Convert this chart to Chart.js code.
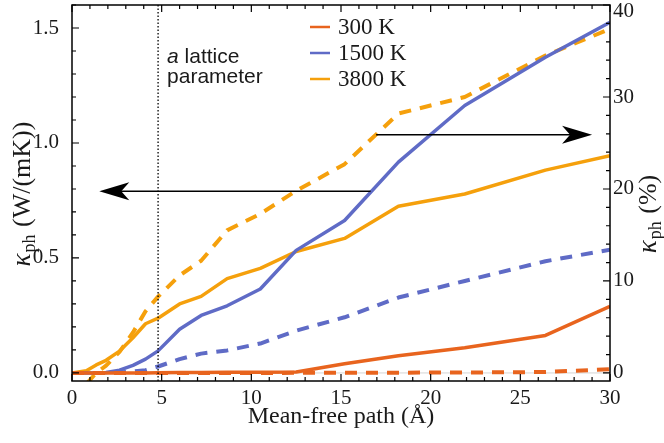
<!DOCTYPE html>
<html>
<head>
<meta charset="utf-8">
<script src="https://cdn.jsdelivr.net/npm/chart.js@4.4.1/dist/chart.umd.min.js"></script>
<style>
    html, body { margin: 0; padding: 0; background: #fff; }
    #caixa { width: 664px; height: 443px; }
</style>
</head>
<body>
<div id="caixa"><canvas id="grafico" width="664" height="443"></canvas></div>
<script>
// caminho livre medio (Å), pontos comuns a todas as curvas
const caminhoLivre = [0, 0.8, 1.35, 1.9, 2.65, 3.4, 4.1, 4.8, 6.0, 7.2, 8.65, 10.5, 12.5, 15.2, 18.2, 21.9, 26.4, 30];

// kappa_ph acumulado (W/(mK)), eixo esquerdo
const kappa300 = [0, 0, 0, 0, 0, 0, 0, 0.001, 0.002, 0.002, 0.003, 0.003, 0.004, 0.04, 0.075, 0.11, 0.163, 0.29];
const kappa1500 = [0, 0, 0, 0.002, 0.012, 0.033, 0.06, 0.096, 0.19, 0.25, 0.292, 0.365, 0.533, 0.663, 0.917, 1.163, 1.373, 1.525];
const kappa3800 = [0, 0.01, 0.035, 0.055, 0.095, 0.153, 0.214, 0.238, 0.30, 0.333, 0.41, 0.455, 0.528, 0.585, 0.725, 0.778, 0.882, 0.945];

// kappa_ph acumulado (%), eixo direito
const pct300 = [0, 0, 0, 0, 0, 0, 0, 0, 0, 0, 0, 0, 0.01, 0.02, 0.03, 0.05, 0.1, 0.4];
const pct1500 = [0, 0, 0, 0, 0.05, 0.15, 0.3, 0.7, 1.5, 2.1, 2.45, 3.2, 4.6, 6.05, 8.2, 10.0, 12.15, 13.4];
const pct3800 = [null, -1.2, 0.0, 0.8, 2.3, 4.4, 6.7, 8.3, 10.6, 12.2, 15.5, 17.3, 19.8, 22.7, 28.2, 30.0, 34.5, 37.4];

const temperaturas = ['300 K', '1500 K', '3800 K'];
const cores = ['#e8641e', '#5f6bc6', '#f5a00c'];

const ticksX = [0, 5, 10, 15, 20, 25, 30];
const ticksEsq = [0, 0.5, 1.0, 1.5];
const ticksDir = [0, 10, 20, 30, 40];

const parametroRede = 4.8;
const setaEsquerda = { de: 16.65, ate: 1.52, valor: 0.79 };
const setaDireita = { de: 16.96, ate: 29.0, valor: 25.9 };

const fonteSerif = '"Liberation Serif", "Times New Roman", serif';
const fonteSans = '"Liberation Sans", Arial, sans-serif';
const corTexto = '#1a1a1a';

function pontos(valores) {
    return caminhoLivre.map((x, i) => ({ x, y: valores[i] })).filter(p => p.y !== null);
}

function criarSerie(rotulo, valores, cor, eixo, tracejado) {
    return {
        label: rotulo,
        data: pontos(valores),
        borderColor: cor,
        backgroundColor: cor,
        borderWidth: tracejado ? 4 : 3.5,
        borderDash: tracejado ? [12, 9] : [],
        borderCapStyle: 'butt',
        borderJoinStyle: 'round',
        pointRadius: 0,
        tension: 0,
        fill: false,
        clip: 0,
        yAxisID: eixo
    };
}

function desenharSeta(ctx, x0, x1, y) {
    const dir = x1 < x0 ? 1 : -1;
    ctx.save();
    ctx.strokeStyle = '#000';
    ctx.fillStyle = '#000';
    ctx.lineWidth = 1.5;
    ctx.beginPath();
    ctx.moveTo(x0, y);
    ctx.lineTo(x1 + dir * 20, y);
    ctx.stroke();
    ctx.beginPath();
    ctx.moveTo(x1, y);
    ctx.lineTo(x1 + dir * 30, y - 9);
    ctx.lineTo(x1 + dir * 22, y);
    ctx.lineTo(x1 + dir * 30, y + 9);
    ctx.closePath();
    ctx.fill();
    ctx.restore();
}

function desenharTituloKappa(ctx, cx, cy, resto) {
    ctx.save();
    ctx.translate(cx, cy);
    ctx.rotate(-Math.PI / 2);
    ctx.fillStyle = corTexto;
    ctx.textBaseline = 'alphabetic';
    const fK = 'italic 27px ' + fonteSerif;
    const fSub = '18px ' + fonteSerif;
    const fResto = '26px ' + fonteSerif;
    ctx.font = fK; const wK = ctx.measureText('κ').width;
    ctx.font = fSub; const wSub = ctx.measureText('ph').width;
    ctx.font = fResto; const wResto = ctx.measureText(resto).width;
    let x = -(wK + wSub + 2 + wResto) / 2;
    const base = 8;
    ctx.font = fK; ctx.fillText('κ', x, base); x += wK + 1;
    ctx.font = fSub; ctx.fillText('ph', x, base + 5); x += wSub + 1;
    ctx.font = fResto; ctx.fillText(resto, x, base);
    ctx.restore();
}

const pluginMoldura = {
    id: 'moldura',
    beforeDatasetsDraw(chart) {
        const { ctx, chartArea: a, scales } = chart;
        const y0 = scales.y.getPixelForValue(0);
        ctx.save();
        ctx.strokeStyle = '#d4d4d4';
        ctx.lineWidth = 1;
        ctx.beginPath();
        ctx.moveTo(a.left, y0);
        ctx.lineTo(a.right, y0);
        ctx.stroke();
        ctx.restore();
    },
    afterDraw(chart) {
        const { ctx, chartArea: a, scales } = chart;
        const sx = scales.x, sy = scales.y, sy2 = scales.y2;

        // linha pontilhada do parametro de rede
        const xp = sx.getPixelForValue(parametroRede);
        ctx.save();
        ctx.strokeStyle = '#000';
        ctx.lineWidth = 1.3;
        ctx.setLineDash([1.5, 2]);
        ctx.beginPath();
        ctx.moveTo(xp, a.bottom);
        ctx.lineTo(xp, a.top);
        ctx.stroke();
        ctx.restore();

        // setas indicando o eixo de cada familia de curvas
        desenharSeta(ctx, sx.getPixelForValue(setaEsquerda.de), sx.getPixelForValue(setaEsquerda.ate), sy.getPixelForValue(setaEsquerda.valor));
        desenharSeta(ctx, sx.getPixelForValue(setaDireita.de), sx.getPixelForValue(setaDireita.ate), sy2.getPixelForValue(setaDireita.valor));

        // moldura e ticks internos
        ctx.save();
        ctx.strokeStyle = '#000';
        ctx.lineWidth = 1.5;
        ctx.strokeRect(a.left, a.top, a.right - a.left, a.bottom - a.top);
        ctx.lineWidth = 1.2;
        ctx.beginPath();
        for (let v = 0; v <= 30; v++) {
            const px = sx.getPixelForValue(v);
            const c = v % 5 === 0 ? 7 : 4;
            ctx.moveTo(px, a.bottom); ctx.lineTo(px, a.bottom - c);
            ctx.moveTo(px, a.top); ctx.lineTo(px, a.top + c);
        }
        for (let k = 0; k <= 16; k++) {
            const py = sy.getPixelForValue(k / 10);
            const c = k % 5 === 0 ? 7 : 4;
            ctx.moveTo(a.left, py); ctx.lineTo(a.left + c, py);
        }
        for (let v = 0; v <= 40; v += 2) {
            const py = sy2.getPixelForValue(v);
            const c = v % 10 === 0 ? 7 : 4;
            ctx.moveTo(a.right, py); ctx.lineTo(a.right - c, py);
        }
        ctx.stroke();
        ctx.restore();

        // rotulos do eixo direito (o do topo desce um pouco para caber)
        ctx.save();
        ctx.fillStyle = corTexto;
        ctx.font = '21px ' + fonteSerif;
        ctx.textAlign = 'left';
        ctx.textBaseline = 'middle';
        ticksDir.forEach(v => {
            const py = Math.max(sy2.getPixelForValue(v), 11);
            ctx.fillText(String(v), a.right + 3, py);
        });
        ctx.restore();

        // texto do parametro de rede
        ctx.save();
        ctx.fillStyle = corTexto;
        ctx.textBaseline = 'alphabetic';
        ctx.font = 'italic 21px ' + fonteSans;
        ctx.fillText('a', xp + 9, 63);
        const wa = ctx.measureText('a ').width;
        ctx.font = '21px ' + fonteSans;
        ctx.fillText('lattice', xp + 9 + wa, 63);
        ctx.fillText('parameter', xp + 9, 83);
        ctx.restore();

        // legenda
        ctx.save();
        ctx.textBaseline = 'middle';
        ctx.font = '23px ' + fonteSerif;
        const linhas = [27, 53, 79];
        temperaturas.forEach((t, i) => {
            ctx.strokeStyle = cores[i];
            ctx.lineWidth = 2.5;
            ctx.beginPath();
            ctx.moveTo(310, linhas[i]);
            ctx.lineTo(330, linhas[i]);
            ctx.stroke();
            ctx.fillStyle = corTexto;
            ctx.fillText(t, 338, linhas[i] + 1);
        });
        ctx.restore();

        // titulos dos eixos
        ctx.save();
        ctx.fillStyle = corTexto;
        ctx.font = '24px ' + fonteSerif;
        ctx.textAlign = 'center';
        ctx.textBaseline = 'alphabetic';
        ctx.fillText('Mean-free path (Å)', (a.left + a.right) / 2, 423);
        ctx.restore();
        desenharTituloKappa(ctx, 22, 194, ' (W/(mK))');
        desenharTituloKappa(ctx, 648, 214, ' (%)');
    }
};

const fonteTicks = { family: fonteSerif, size: 21 };

function semRecuoVertical(s) { s.paddingTop = 0; s.paddingBottom = 0; }

new Chart(document.getElementById('grafico'), {
    type: 'line',
    data: {
        datasets: [
            criarSerie(temperaturas[0], kappa300, cores[0], 'y', false),
            criarSerie(temperaturas[0] + ' (%)', pct300, cores[0], 'y2', true),
            criarSerie(temperaturas[1], kappa1500, cores[1], 'y', false),
            criarSerie(temperaturas[1] + ' (%)', pct1500, cores[1], 'y2', true),
            criarSerie(temperaturas[2], kappa3800, cores[2], 'y', false),
            criarSerie(temperaturas[2] + ' (%)', pct3800, cores[2], 'y2', true)
        ]
    },
    options: {
        responsive: false,
        animation: false,
        devicePixelRatio: 1,
        layout: { padding: { top: 5, left: 0, right: 0, bottom: 0 } },
        plugins: { legend: { display: false }, tooltip: { enabled: false } },
        scales: {
            x: {
                type: 'linear',
                min: 0,
                max: 30,
                afterBuildTicks: s => { s.ticks = ticksX.map(v => ({ value: v })); },
                afterFit: s => { s.height = 62; s.paddingLeft = 0; s.paddingRight = 0; },
                grid: { display: false },
                border: { display: false },
                ticks: { font: fonteTicks, color: corTexto, padding: -3, maxRotation: 0, autoSkip: false, callback: v => String(v) }
            },
            y: {
                position: 'left',
                min: -0.035,
                max: 1.6,
                afterBuildTicks: s => { s.ticks = ticksEsq.map(v => ({ value: v })); },
                afterFit: s => { s.width = 72; semRecuoVertical(s); },
                grid: { display: false },
                border: { display: false },
                ticks: { font: fonteTicks, color: corTexto, padding: 5, callback: v => v.toFixed(1) }
            },
            y2: {
                position: 'right',
                min: -0.875,
                max: 40,
                afterBuildTicks: s => { s.ticks = ticksDir.map(v => ({ value: v })); },
                afterFit: s => { s.width = 54; semRecuoVertical(s); },
                grid: { display: false },
                border: { display: false },
                ticks: { display: false }
            }
        }
    },
    plugins: [pluginMoldura]
});
</script>
</body>
</html>
